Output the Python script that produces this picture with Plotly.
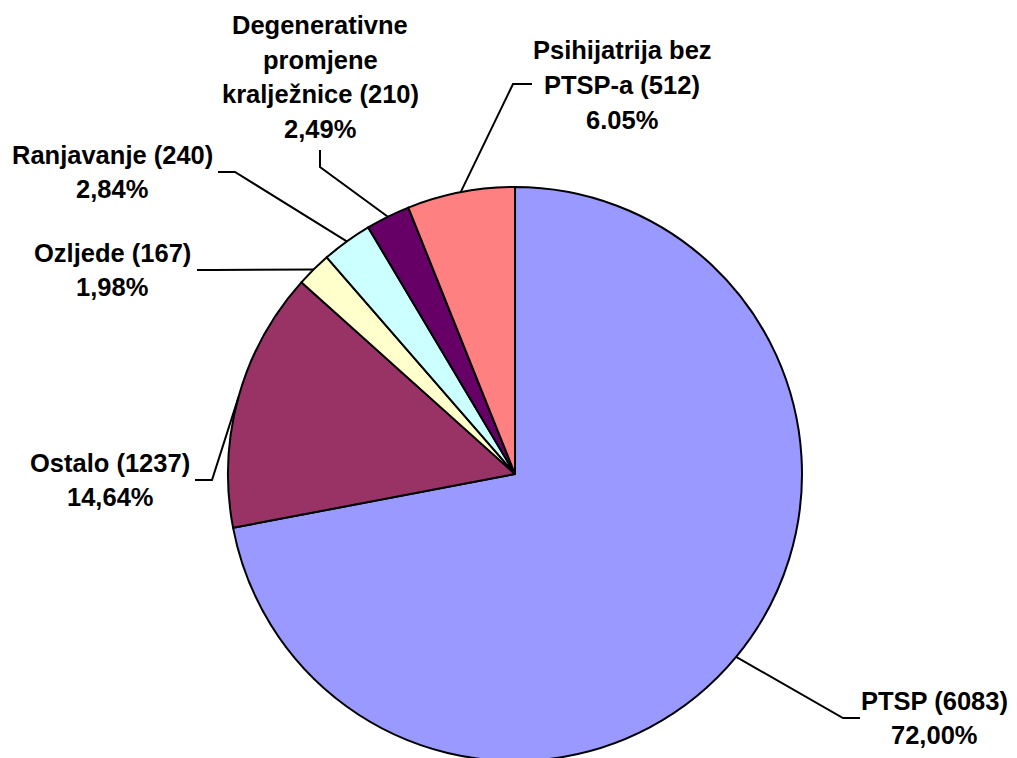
import math
import plotly.graph_objects as go

# ---- data ----
categories = ["PTSP", "Ostalo", "Ozljede", "Ranjavanje",
              "Degenerativne promjene kralježnice", "Psihijatrija bez PTSP-a"]
counts = [6083, 1237, 167, 240, 210, 512]
percent_labels = ["72,00%", "14,64%", "1,98%", "2,84%", "2,49%", "6.05%"]
label_lines = [
    ["PTSP (6083)"],
    ["Ostalo (1237)"],
    ["Ozljede (167)"],
    ["Ranjavanje (240)"],
    ["Degenerativne", "promjene", "kralježnice (210)"],
    ["Psihijatrija bez", "PTSP-a (512)"],
]
colors = ["#9999FF", "#993366", "#FFFFCC", "#CCFFFF", "#660066", "#FF8080"]

# ---- layout constants (page pixels) ----
W, H = 1017, 758
OFF = 8  # default page body margin
PIE_CX, PIE_CY, PIE_R = 515, 474, 287
label_pos = [(934, 718), (110, 480), (112, 270), (112, 172), (320, 77), (622, 85)]
elbows = [[(843, 718), (860, 718)],
          [(212, 480), (195, 480)],
          [(213, 270), (197, 270)],
          [(235, 172), (218, 172)],
          [(320, 167), (320, 150)],
          [(513, 84), (532, 84)]]
line_gap = 34.5
font_size = 25.5


def px2paper(x, y):
    return (x - OFF) / W, 1 - (y - OFF) / H


x0, y1 = px2paper(PIE_CX - PIE_R, PIE_CY - PIE_R)
x1, y0 = px2paper(PIE_CX + PIE_R, PIE_CY + PIE_R)

fig = go.Figure(go.Pie(
    labels=categories, values=counts, sort=False, direction="clockwise",
    rotation=0, marker=dict(colors=colors, line=dict(color="black", width=2)),
    textinfo="none", domain=dict(x=[x0, x1], y=[max(y0, 0), y1]),
    showlegend=False,
))

total = sum(counts)
cum = 0
shapes = []
annotations = []
for i, v in enumerate(counts):
    mid = (cum + v / 2) / total * 2 * math.pi
    cum += v
    ax = PIE_CX + PIE_R * math.sin(mid)
    ay = PIE_CY - PIE_R * math.cos(mid)
    pts = [(ax, ay)] + elbows[i]
    path = ""
    for j, (x, y) in enumerate(pts):
        px, py = px2paper(x, y)
        path += ("M" if j == 0 else "L") + f"{px:.5f},{py:.5f} "
    shapes.append(dict(type="path", xref="paper", yref="paper", path=path,
                       line=dict(color="black", width=2)))
    lines = label_lines[i] + [percent_labels[i]]
    n = len(lines)
    lx, ly = label_pos[i]
    for k, t in enumerate(lines):
        yy = ly + (k - (n - 1) / 2) * line_gap
        px, py = px2paper(lx, yy)
        annotations.append(dict(x=px, y=py, xref="paper", yref="paper",
                                text=t, showarrow=False, xanchor="center",
                                yanchor="middle",
                                font=dict(family="Liberation Sans, Arial",
                                          size=font_size, color="black",
                                          weight="bold")))

fig.update_layout(width=W, height=H, margin=dict(l=0, r=0, t=0, b=0),
                  paper_bgcolor="white", plot_bgcolor="white",
                  shapes=shapes, annotations=annotations)
fig.write_html("out.html")
